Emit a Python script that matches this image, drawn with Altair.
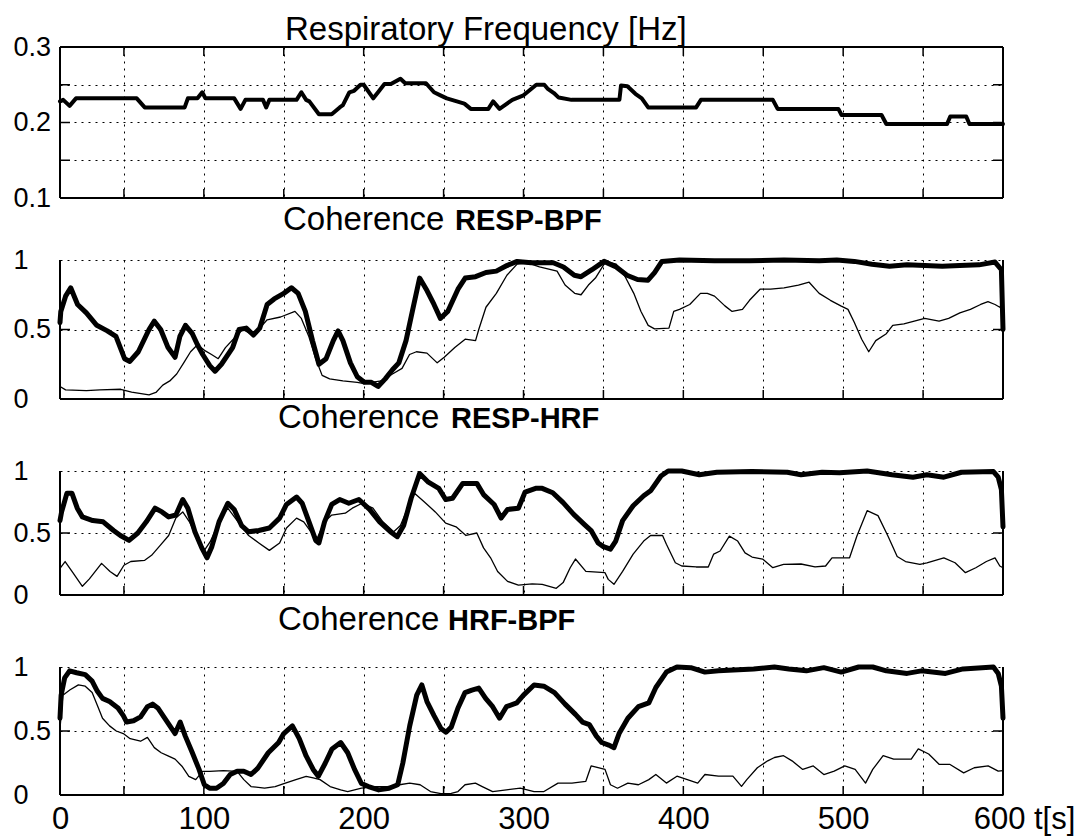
import altair as alt
import pandas as pd

# ---------------- data (time [s], value) ----------------
resp_freq = [
    (10, 0.228), (12, 0.230), (16, 0.222), (20, 0.232), (58, 0.232), (63, 0.220), (88, 0.220),
    (90, 0.232), (96, 0.232), (99, 0.240), (101, 0.232), (119, 0.232), (123, 0.218), (126, 0.230),
    (137, 0.230), (139, 0.220), (141, 0.230), (158, 0.230), (161, 0.240), (164, 0.230), (166, 0.228),
    (172, 0.211), (180, 0.211), (185, 0.220), (187, 0.223), (191, 0.240), (194, 0.242), (198, 0.250),
    (200, 0.250), (206, 0.232), (209, 0.240), (213, 0.251), (217, 0.251), (223, 0.258), (226, 0.252),
    (239, 0.252), (244, 0.240), (248, 0.236), (252, 0.232), (263, 0.225), (267, 0.218), (278, 0.218),
    (281, 0.228), (285, 0.218), (289, 0.224), (293, 0.230), (300, 0.236), (304, 0.243), (308, 0.250),
    (313, 0.250), (315, 0.245), (319, 0.239), (322, 0.233), (330, 0.230), (360, 0.230), (361, 0.249),
    (365, 0.248), (370, 0.238), (374, 0.232), (376, 0.226), (378, 0.220), (408, 0.220), (411, 0.230),
    (456, 0.230), (459, 0.218), (497, 0.218), (499, 0.210), (524, 0.210), (527, 0.198), (565, 0.198),
    (567, 0.208), (577, 0.208), (579, 0.198), (600, 0.198),
]

resp_bpf_thick = [
    (10, 0.55), (10.5, 0.63), (13.5, 0.74), (16.7, 0.80), (21, 0.68), (26.5, 0.62), (33, 0.53),
    (39.6, 0.49), (45, 0.45), (50.4, 0.29), (53.7, 0.27), (59, 0.34), (65.7, 0.50), (69, 0.56),
    (73, 0.50), (77.6, 0.37), (82, 0.30), (85, 0.45), (88.5, 0.53), (92.8, 0.47), (96, 0.39),
    (99.3, 0.32), (103.7, 0.24), (107, 0.20), (111, 0.25), (118, 0.37), (122, 0.50), (126.5, 0.51),
    (131, 0.46), (135, 0.51), (139.6, 0.68), (144, 0.72), (150, 0.76), (154.8, 0.80), (159, 0.76),
    (163.5, 0.63), (168, 0.42), (172, 0.25), (176.5, 0.29), (181, 0.42), (184, 0.49), (187, 0.42),
    (191.7, 0.26), (196, 0.16), (200.4, 0.12), (204.8, 0.12), (209, 0.09), (213.5, 0.145), (218, 0.21),
    (222, 0.26), (226.5, 0.42), (231, 0.66), (235, 0.87), (239.6, 0.78), (244, 0.68), (248, 0.58),
    (252.6, 0.63), (259, 0.79), (263.5, 0.87), (270, 0.88), (276.5, 0.91), (283, 0.92), (289.6, 0.96),
    (296, 0.99), (304.8, 0.98), (311, 0.98), (318.6, 0.98), (325, 0.95), (331.8, 0.89), (336, 0.88),
    (342.8, 0.93), (350.4, 0.99), (358, 0.95), (364.7, 0.89), (371.3, 0.86), (377.9, 0.855), (382, 0.91),
    (386.6, 0.99), (397.6, 1.0), (419.5, 0.995), (441.4, 0.995), (463, 1.0), (485, 0.995), (496, 1.0),
    (507, 0.99), (518, 0.97), (529, 0.955), (540, 0.965), (551, 0.96), (562, 0.955), (573, 0.96),
    (585, 0.965), (595, 0.985), (599, 0.93), (600, 0.50),
]
resp_bpf_thin = [
    (10, 0.09), (13.5, 0.066), (26.5, 0.06), (35, 0.065), (48, 0.07), (54.8, 0.05), (65.7, 0.03),
    (70, 0.047), (74.3, 0.10), (78.7, 0.13), (83, 0.18), (87.4, 0.26), (91.7, 0.34), (96, 0.39),
    (100.4, 0.35), (104.8, 0.32), (109, 0.29), (113.5, 0.37), (120, 0.45), (124.3, 0.50), (131, 0.46),
    (135, 0.51), (139.6, 0.57), (148, 0.59), (157, 0.63), (161, 0.58), (165.7, 0.45), (170, 0.29),
    (174, 0.17), (178.7, 0.145), (187, 0.13), (196, 0.12), (200.4, 0.11), (204.8, 0.12), (211, 0.13),
    (218, 0.18), (224, 0.22), (228.7, 0.32), (233, 0.34), (239.6, 0.33), (246, 0.26), (250.4, 0.30),
    (257, 0.37), (263.5, 0.43), (270, 0.42), (272, 0.50), (276.5, 0.66), (283, 0.76), (289.6, 0.89),
    (296, 0.97), (302.6, 0.98), (310, 0.95), (321, 0.92), (326, 0.82), (332, 0.76), (336, 0.75),
    (340.6, 0.82), (345, 0.87), (351.5, 0.99), (358, 0.97), (363.6, 0.88), (369, 0.76), (373.5, 0.63),
    (378, 0.53), (382, 0.505), (391, 0.51), (394, 0.63), (397.6, 0.645), (404, 0.68), (410.7, 0.76),
    (415, 0.76), (419.5, 0.74), (426, 0.67), (430.5, 0.63), (437, 0.645), (441.4, 0.71), (448, 0.79),
    (454.6, 0.79), (463, 0.80), (472, 0.82), (478.7, 0.84), (485, 0.76), (492, 0.71), (498.5, 0.67),
    (503, 0.645), (507, 0.55), (511.6, 0.43), (516, 0.34), (520.4, 0.42), (527, 0.47), (531, 0.53),
    (538, 0.54), (544.5, 0.56), (551, 0.58), (560, 0.56), (566, 0.58), (573, 0.62), (579.6, 0.645),
    (586, 0.68), (590.6, 0.70), (595, 0.68), (598, 0.66), (600, 0.70),
]

resp_hrf_thick = [
    (10, 0.60), (11, 0.67), (14.3, 0.82), (17.5, 0.82), (20.8, 0.70), (24, 0.63), (30.5, 0.60),
    (37, 0.59), (43.5, 0.52), (47.8, 0.48), (53.2, 0.44), (58.7, 0.50), (64, 0.59), (69.5, 0.70),
    (73.8, 0.67), (78, 0.63), (82.5, 0.645), (86.8, 0.77), (90, 0.70), (94.4, 0.51), (98.7, 0.38),
    (102, 0.30), (105, 0.39), (109.5, 0.59), (115, 0.74), (119, 0.69), (123.6, 0.56), (128, 0.51),
    (134.4, 0.52), (141, 0.54), (147.4, 0.62), (151.7, 0.73), (158, 0.79), (161.5, 0.74), (165.8, 0.59),
    (170, 0.44), (172, 0.42), (175.5, 0.59), (180, 0.73), (185, 0.77), (190.7, 0.74), (197, 0.77),
    (203.7, 0.69), (210, 0.59), (216.7, 0.51), (221, 0.47), (225, 0.56), (229.7, 0.78), (235, 0.98),
    (240.5, 0.91), (247, 0.86), (251.3, 0.77), (255.6, 0.78), (262, 0.90), (270.8, 0.90), (275, 0.81),
    (281.6, 0.73), (286, 0.62), (290, 0.69), (296.8, 0.70), (301, 0.83), (307.6, 0.86), (311.7, 0.86),
    (318.3, 0.825), (324.8, 0.745), (331.4, 0.65), (338, 0.57), (342.3, 0.52), (346.7, 0.42),
    (350, 0.39), (354.4, 0.37), (357.7, 0.435), (362, 0.60), (368.6, 0.72), (375.2, 0.80),
    (379.5, 0.84), (386, 0.96), (390.5, 1.0), (399, 1.0), (410, 0.97), (421, 0.99), (443, 0.995),
    (465, 0.99), (473.6, 0.97), (486.8, 0.99), (497.7, 0.985), (515, 1.0), (530.5, 0.97),
    (543.7, 0.95), (552.4, 0.97), (563, 0.95), (574, 0.99), (594, 0.995), (597, 0.95), (599, 0.85),
    (600, 0.55),
]
resp_hrf_thin = [
    (10, 0.215), (13.2, 0.27), (17.5, 0.19), (24, 0.07), (28.4, 0.13), (36, 0.255), (41.3, 0.19),
    (45.7, 0.15), (50, 0.24), (54.3, 0.27), (63, 0.28), (67.3, 0.32), (72.7, 0.40), (78, 0.48),
    (82.5, 0.62), (86.8, 0.67), (91, 0.59), (95.5, 0.46), (99.8, 0.35), (104, 0.43), (110.6, 0.62),
    (115, 0.70), (121.4, 0.59), (128, 0.48), (134.4, 0.42), (141, 0.36), (147.4, 0.42), (151.7, 0.54),
    (158, 0.62), (162.5, 0.59), (167, 0.51), (171, 0.46), (175.5, 0.59), (180, 0.645), (188.5, 0.66),
    (192.9, 0.70), (199, 0.74), (205.8, 0.70), (212, 0.59), (218.8, 0.51), (223, 0.56), (227.5, 0.70),
    (231.8, 0.82), (238, 0.75), (244.8, 0.67), (251.3, 0.58), (257.8, 0.55), (264, 0.48), (270.8, 0.50),
    (275, 0.38), (279.4, 0.30), (283.8, 0.19), (290, 0.11), (296.8, 0.08), (305.4, 0.09),
    (311.7, 0.086), (320.5, 0.054), (324.8, 0.10), (329.2, 0.22), (332.5, 0.29), (339, 0.19),
    (351, 0.18), (353, 0.126), (356.6, 0.086), (362, 0.19), (368.6, 0.33), (375.2, 0.435),
    (379.5, 0.48), (387, 0.48), (389.4, 0.41), (395, 0.26), (399, 0.234), (408, 0.226),
    (415.6, 0.226), (419, 0.33), (423, 0.355), (428.8, 0.475), (434, 0.435), (438.6, 0.34),
    (443, 0.306), (449.6, 0.29), (456, 0.22), (462.7, 0.247), (473.6, 0.25), (482.4, 0.226),
    (489, 0.234), (493, 0.30), (504, 0.30), (508.6, 0.476), (515, 0.68), (521.8, 0.64), (528, 0.476),
    (533.8, 0.31), (539, 0.27), (548, 0.247), (552.4, 0.26), (563, 0.30), (570, 0.26), (576.5, 0.18),
    (583, 0.22), (589.6, 0.27), (595, 0.30), (598, 0.234), (600, 0.22),
]

hrf_bpf_thick = [
    (10, 0.60), (10.7, 0.78), (12.9, 0.915), (16, 0.97), (20.4, 0.955), (25.8, 0.94), (30.1, 0.89),
    (33.4, 0.81), (36.6, 0.755), (41, 0.73), (46.3, 0.68), (49.6, 0.62), (51.7, 0.57), (56, 0.58),
    (60.4, 0.61), (64.7, 0.69), (67.9, 0.71), (71.2, 0.68), (75.5, 0.60), (79.8, 0.52), (82, 0.48),
    (85.2, 0.57), (88.4, 0.46), (92.8, 0.33), (97, 0.20), (100.3, 0.08), (103.6, 0.053),
    (107.9, 0.053), (112.2, 0.09), (116.5, 0.16), (120.8, 0.185), (125, 0.185), (129.5, 0.16),
    (133.8, 0.21), (140.3, 0.33), (146.8, 0.41), (150, 0.48), (155.4, 0.54), (159.7, 0.44),
    (164, 0.305), (168.4, 0.20), (171.6, 0.146), (176, 0.25), (180.2, 0.36), (185.6, 0.41),
    (190, 0.33), (194.3, 0.20), (198.6, 0.09), (203, 0.066), (209.4, 0.04), (215.9, 0.053),
    (221.3, 0.08), (224.5, 0.25), (228.8, 0.54), (233.2, 0.78), (236.4, 0.86), (239.6, 0.73),
    (244, 0.62), (248.3, 0.52), (251.5, 0.49), (254.8, 0.53), (259, 0.68), (263.4, 0.80),
    (267.7, 0.82), (272, 0.835), (276.3, 0.755), (280.7, 0.69), (285, 0.60), (289.3, 0.69),
    (295.8, 0.72), (300, 0.78), (306.6, 0.86), (312.7, 0.85), (319.4, 0.80), (326, 0.71),
    (332.5, 0.63), (336.9, 0.57), (341.2, 0.55), (345.6, 0.46), (349, 0.41), (353.3, 0.39),
    (356.6, 0.37), (359.8, 0.48), (365.3, 0.60), (371.9, 0.69), (378.4, 0.72), (382.8, 0.84),
    (389.4, 0.96), (396, 1.0), (404.7, 0.995), (413.5, 0.96), (422, 0.97), (444, 0.985), (457, 1.0),
    (466, 0.985), (477, 0.97), (487.9, 0.995), (498.8, 0.96), (509.7, 1.0), (518.5, 1.0), (527, 0.97),
    (540, 0.95), (549, 0.97), (564, 0.95), (575, 0.985), (594, 1.0), (597, 0.95), (599, 0.85),
    (600, 0.60),
]
hrf_bpf_thin = [
    (10, 0.52), (11.8, 0.78), (16.1, 0.82), (21.5, 0.86), (25.8, 0.85), (30.1, 0.80), (33.4, 0.70),
    (36.6, 0.60), (41, 0.54), (45.2, 0.50), (49.6, 0.48), (53.9, 0.44), (60.4, 0.42), (64.7, 0.45),
    (69, 0.37), (73.3, 0.33), (77.6, 0.305), (82, 0.28), (86.3, 0.225), (90.6, 0.146), (94.9, 0.12),
    (99.2, 0.185), (103.6, 0.185), (112.2, 0.19), (120.8, 0.185), (125, 0.12), (129.5, 0.066),
    (138, 0.053), (144.6, 0.066), (151, 0.093), (157.6, 0.12), (164, 0.146), (168.4, 0.133),
    (172.7, 0.12), (179, 0.066), (185.6, 0.04), (190, 0.027), (198.6, 0.053), (207.2, 0.066),
    (215.9, 0.066), (222.4, 0.08), (228.8, 0.093), (235.3, 0.08), (241.8, 0.027), (248.3, 0.01),
    (254.8, 0.013), (259, 0.027), (263.4, 0.08), (269.9, 0.093), (274.2, 0.066), (280.7, 0.027),
    (289.3, 0.04), (298, 0.053), (306.6, 0.027), (312.8, 0.027), (321.6, 0.093), (330.3, 0.093),
    (339, 0.107), (342.3, 0.227), (346.7, 0.213), (351, 0.20), (354.4, 0.08), (358.8, 0.053),
    (365.3, 0.093), (371.9, 0.08), (378.4, 0.12), (382.8, 0.16), (389.4, 0.093), (396, 0.147),
    (402.5, 0.12), (409, 0.093), (413.5, 0.16), (422, 0.147), (431, 0.147), (436.4, 0.067),
    (439.7, 0.12), (446.3, 0.213), (452.8, 0.267), (457, 0.293), (462.7, 0.307), (468, 0.267),
    (474.7, 0.20), (481.3, 0.227), (487.9, 0.16), (494.4, 0.187), (501, 0.227), (507.5, 0.20),
    (514, 0.093), (518.5, 0.20), (525, 0.307), (531.6, 0.28), (542.6, 0.28), (547, 0.36),
    (553.5, 0.32), (560, 0.24), (566.6, 0.24), (575.4, 0.173), (582, 0.213), (590.7, 0.227),
    (597, 0.187), (600, 0.19),
]

# axis ticks / grid values
x_grid = [50, 100, 150, 200, 250, 300, 350, 400, 450, 500, 550]
x_axis_values = [10] + x_grid + [600]
resp_y_values = [0.1, 0.15, 0.2, 0.25, 0.3]
resp_y_grid = [0.15, 0.2, 0.25]
coh_y_values = [0, 0.5, 1]
coh_y_grid = [0.5]

# ---------------- layout / style ----------------
W = 943
FONT = "Liberation Sans"
xscale = alt.Scale(domain=[10, 600], nice=False, zero=False)
GRID = dict(grid=True, gridDash=[2, 5], gridColor="black", gridWidth=1, gridOpacity=1)


def x_axis(show):
    if show:
        return alt.Axis(
            values=x_axis_values, ticks=False, tickSize=0, domain=False, title=None,
            labelExpr="datum.value == 10 ? '0' : (datum.value == 600 ? '600 t[s]' : "
                      "(datum.value % 100 == 0 ? format(datum.value, 'd') : ''))",
            labelFontSize=31, labelPadding=9, labelFlush=False, labelOverlap=False,
            labelOffset={"condition": {"test": "datum.value == 600", "value": 21}, "value": 0},
            **GRID)
    return alt.Axis(values=x_axis_values, labels=False, ticks=False, tickSize=0,
                    domain=False, title=None, **GRID)


def y_axis(values, expr):
    return alt.Axis(values=values, ticks=False, tickSize=0, domain=False, title=None,
                    labelExpr=expr, labelFontSize=27, labelAlign="left", labelPadding=47,
                    labelBaseline="middle", labelFlush=False, labelOverlap=False, **GRID)


one = pd.DataFrame({"k": [0]})


def panel(h, ydom, yvals, yexpr, ygrid, series, titles, show_x, top_border):
    ys = alt.Scale(domain=ydom, nice=False, zero=False)
    X = alt.X("t:Q", scale=xscale, axis=x_axis(show_x))
    Y = alt.Y("v:Q", scale=ys, axis=y_axis(yvals, yexpr))
    layers = []
    for pairs, w in series:
        d = pd.DataFrame(pairs, columns=["t", "v"])
        layers.append(alt.Chart(d).mark_line(color="black", strokeWidth=w, strokeJoin="round",
                                             strokeCap="round").encode(x=X, y=Y))
    xt = pd.DataFrame({"t": x_grid})
    layers.append(alt.Chart(xt).mark_rule(color="black", strokeWidth=1.5).encode(
        x=X, y=alt.value(h), y2=alt.value(h - 9)))
    if top_border:
        layers.append(alt.Chart(xt).mark_rule(color="black", strokeWidth=1.5).encode(
            x=X, y=alt.value(0), y2=alt.value(9)))
    yt = pd.DataFrame({"v": ygrid})
    layers.append(alt.Chart(yt).mark_rule(color="black", strokeWidth=1.5).encode(
        y=Y, x=alt.value(0), x2=alt.value(10)))
    layers.append(alt.Chart(yt).mark_rule(color="black", strokeWidth=1.5).encode(
        y=Y, x=alt.value(W), x2=alt.value(W - 10)))
    # frame
    layers.append(alt.Chart(one).mark_rule(color="black", strokeWidth=2).encode(
        x=alt.value(0), y=alt.value(0), y2=alt.value(h)))
    layers.append(alt.Chart(one).mark_rule(color="black", strokeWidth=2).encode(
        x=alt.value(W), y=alt.value(0), y2=alt.value(h)))
    layers.append(alt.Chart(one).mark_rule(color="black", strokeWidth=2).encode(
        x=alt.value(0), x2=alt.value(W), y=alt.value(h)))
    if top_border:
        layers.append(alt.Chart(one).mark_rule(color="black", strokeWidth=2).encode(
            x=alt.value(0), x2=alt.value(W), y=alt.value(0)))
    for txt, dx, dy, size, weight in titles:
        layers.append(alt.Chart(pd.DataFrame({"txt": [txt]})).mark_text(
            align="left", baseline="alphabetic", font=FONT, fontSize=size,
            fontWeight=weight, color="black").encode(
            x=alt.value(dx), y=alt.value(dy), text="txt:N"))
    return alt.layer(*layers).properties(width=W, height=h)


resp_expr = ("(datum.value == 0.1 || datum.value == 0.2 || datum.value == 0.3) ? "
             "format(datum.value, '.1f') : ''")
coh_expr = "format(datum.value, '~g')"

p1 = panel(151, [0.1, 0.3], resp_y_values, resp_expr, resp_y_grid,
           [(resp_freq, 4)],
           [("Respiratory Frequency [Hz]", 225, -7, 33, "normal")], False, True)
p2 = panel(139, [0, 1], coh_y_values, coh_expr, coh_y_grid,
           [(resp_bpf_thin, 1.3), (resp_bpf_thick, 5)],
           [("Coherence", 223, -30, 33, "normal"), ("RESP-BPF", 395, -30, 29, "bold")],
           False, False)
p3 = panel(124, [0, 1], coh_y_values, coh_expr, coh_y_grid,
           [(resp_hrf_thin, 1.3), (resp_hrf_thick, 5)],
           [("Coherence", 218, -43, 33, "normal"), ("RESP-HRF", 391, -43, 29, "bold")],
           False, False)
p4 = panel(128, [0, 1], coh_y_values, coh_expr, coh_y_grid,
           [(hrf_bpf_thin, 1.3), (hrf_bpf_thick, 5)],
           [("Coherence", 218, -37, 33, "normal"), ("HRF-BPF", 388, -37, 29, "bold")],
           True, False)

lower = alt.vconcat(p2, p3, p4, spacing=72, bounds="flush")
chart = alt.vconcat(p1, lower, spacing=62, bounds="flush").properties(
    padding={"left": 13, "top": 14, "right": 8, "bottom": 2},
    background="white",
).configure_view(strokeWidth=0).configure_axis(
    labelFont=FONT, labelColor="black"
)

chart.save("out.html", embed_options={"renderer": "svg", "actions": False})
